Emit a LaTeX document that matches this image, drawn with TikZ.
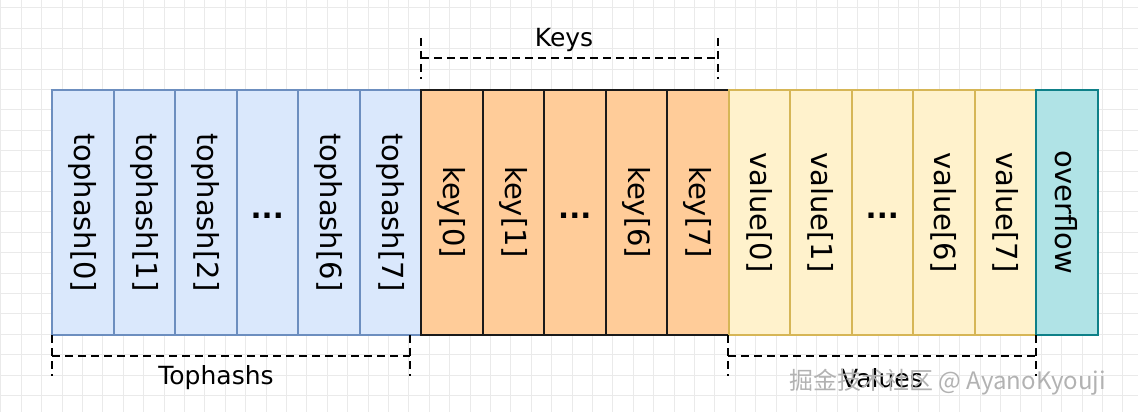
\documentclass[tikz,border=0pt]{standalone}
\usepackage{fontspec}
\setmainfont{DejaVu Sans}
\newfontfamily\cjkfont{Noto Sans CJK SC}
\usetikzlibrary{positioning,calc}

\definecolor{hashfill}{HTML}{DAE8FC}
\definecolor{hashline}{HTML}{6C8EBF}
\definecolor{keyfill}{HTML}{FFCC99}
\definecolor{keyline}{HTML}{1A1A1A}
\definecolor{valfill}{HTML}{FFF2CC}
\definecolor{valline}{HTML}{D6B656}
\definecolor{ovffill}{HTML}{B0E3E6}
\definecolor{ovfline}{HTML}{0E8088}
\definecolor{gridline}{HTML}{EAEAEA}

\newcommand{\vtext}[1]{\rotatebox{-90}{#1}}
\newcommand{\celldots}{\raisebox{-12pt}{\textbf{...}}}

\tikzset{
  cell/.style={draw, line width=2pt, minimum width=61.5pt, minimum height=245.5pt,
    inner sep=0pt, outer sep=0pt, anchor=north west, font=\fontsize{29}{32}\selectfont},
  hashcell/.style={cell, fill=hashfill, draw=hashline},
  keycell/.style={cell, fill=keyfill, draw=keyline},
  valcell/.style={cell, fill=valfill, draw=valline},
  ovfcell/.style={cell, fill=ovffill, draw=ovfline},
  bracket/.style={line width=2pt, dash pattern=on 8pt off 5pt},
  caption/.style={font=\fontsize{25}{28}\selectfont},
}

\begin{document}
\begin{tikzpicture}[x=1pt, y=-1pt]
    \useasboundingbox (0,0) rectangle (1138,412);

    % Grid paper
    \foreach \i in {0,...,55} \draw[gridline, line width=0.6pt] (0.6+\i*20.4,0) -- (0.6+\i*20.4,412);
    \foreach \j in {0,...,19} \draw[gridline, line width=0.6pt] (0,7.7+\j*20.4) -- (1138,7.7+\j*20.4);

    % Tophashs
    \node[hashcell] (th0) at (52,89.5) {\vtext{tophash[0]}};
    \node[hashcell] (th1) at (113.5,89.5) {\vtext{tophash[1]}};
    \node[hashcell] (th2) at (175,89.5) {\vtext{tophash[2]}};
    \node[hashcell] (thx) at (236.5,89.5) {\celldots};
    \node[hashcell] (th6) at (298,89.5) {\vtext{tophash[6]}};
    \node[hashcell] (th7) at (359.5,89.5) {\vtext{tophash[7]}};

    % Keys
    \node[keycell] (k0) at (421,89.5) {\vtext{key[0]}};
    \node[keycell] (k1) at (482.5,89.5) {\vtext{key[1]}};
    \node[keycell] (kx) at (544,89.5) {\celldots};
    \node[keycell] (k6) at (605.5,89.5) {\vtext{key[6]}};
    \node[keycell] (k7) at (667,89.5) {\vtext{key[7]}};

    % Values
    \node[valcell] (v0) at (728.5,89.5) {\vtext{value[0]}};
    \node[valcell] (v1) at (790,89.5) {\vtext{value[1]}};
    \node[valcell] (vx) at (851.5,89.5) {\celldots};
    \node[valcell] (v6) at (913,89.5) {\vtext{value[6]}};
    \node[valcell] (v7) at (974.5,89.5) {\vtext{value[7]}};

    % Overflow pointer
    \node[ovfcell] (ovf) at (1036,89.5) {\vtext{overflow}};

    % Keys bracket
    \coordinate (ka) at (421,38);
    \coordinate (kb) at (421,79);
    \coordinate (kc) at (718,38);
    \coordinate (kd) at (718,79);
    \draw[bracket] (ka) -- (kb);
    \draw[bracket] (kc) -- (kd);
    \draw[bracket] ($(ka)!0.5!(kb)$) -- ($(kc)!0.5!(kd)$);
    \node[caption] (keys) at (564,40) {Keys};

    % Tophashs bracket
    \coordinate (ta) at (52,335);
    \coordinate (tb) at (52,376);
    \coordinate (tc) at (410,335);
    \coordinate (td) at (410,376);
    \draw[bracket] (ta) -- (tb);
    \draw[bracket] (tc) -- (td);
    \draw[bracket] ($(ta)!0.5!(tb)$) -- ($(tc)!0.5!(td)$);
    \node[caption] (tophashs) at (216,378) {Tophashs};

    % Values bracket
    \coordinate (va) at (728,335);
    \coordinate (vb) at (728,376);
    \coordinate (vc) at (1036,335);
    \coordinate (vd) at (1036,376);
    \draw[bracket] (va) -- (vb);
    \draw[bracket] (vc) -- (vd);
    \draw[bracket] ($(va)!0.5!(vb)$) -- ($(vc)!0.5!(vd)$);
    \node[caption] (values) at (882,378) {Values};

    % Watermark
    \node[gray!60, font=\cjkfont\fontsize{24}{26}\selectfont, anchor=west] (mark) at (786,382) {掘金技术社区 @ AyanoKyouji};
\end{tikzpicture}
\end{document}
